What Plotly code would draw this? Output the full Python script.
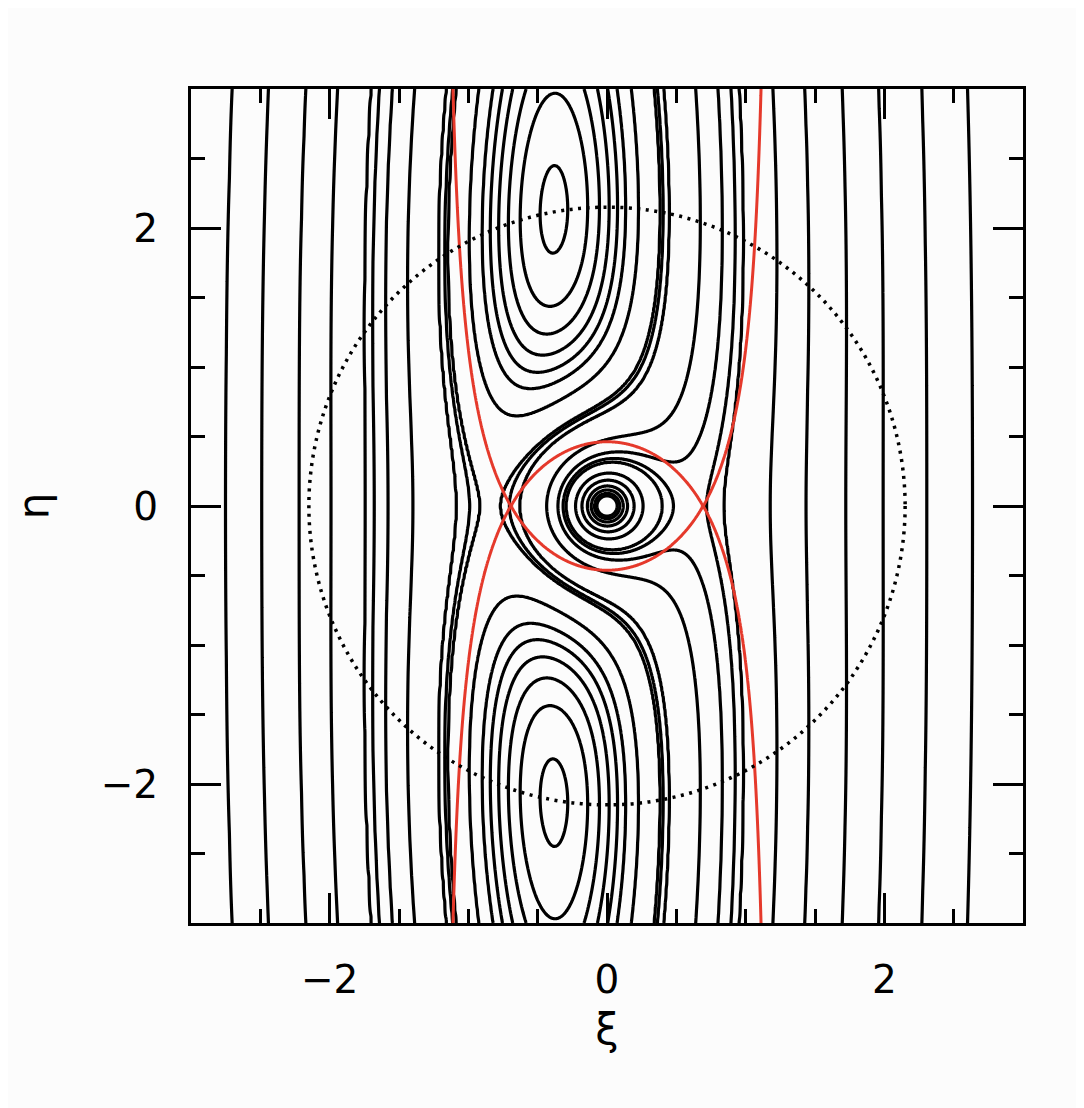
import numpy as np
import plotly.graph_objects as go

# stream function: shear about a shifted corotation line, planet at the origin,
# weak curvature in eta (puts the two vortices on the dotted circle)
SHEAR = 3.0
SHIFT = 0.37
PLANET = 2.0
ETA_CURV = 0.1

# crossings; each one fixes one drawn contour level
ROW0_XI = [-2.75, -2.49, -2.22, -1.99, -1.74, -1.68, -1.58, -1.40,
           -1.085, -0.99, -0.92]                 # on eta = 0, left side
TOP_EDGE_XI = [2.27, 2.60]                        # on eta = 3, right side
VORTEX_XI = -0.383
VORTEX_BOTTOM_ETA = [1.82, 1.44, 1.245, 1.10, 0.986, 0.885, 0.74]

HILL_LEVEL = 4.327   # Jacobi value through L1/L2 (red curves)
CIRCLE_R = 2.15      # dotted circle

AX_RANGE = [-3, 3]
MAJOR_DTICK = 2
MINOR_DTICK = 0.5


def stream(xi, eta):
    r = np.maximum(np.hypot(xi, eta), 1e-3)
    return SHEAR * (xi + SHIFT) ** 2 + PLANET / r + ETA_CURV * eta ** 2


def hill(xi, eta):
    r = np.maximum(np.hypot(xi, eta), 1e-3)
    return SHEAR * xi ** 2 + PLANET / r


# smooth grid, denser round the planet
u = np.linspace(-1, 1, 561)
grid = 3 * np.sinh(2.2 * u) / np.sinh(2.2)
XI, ETA = np.meshgrid(grid, grid)
psi = stream(XI, ETA)

levels = [stream(x, 0.0) for x in ROW0_XI]
levels += [stream(x, 3.0) for x in TOP_EDGE_XI]
levels += [stream(VORTEX_XI, e) for e in VORTEX_BOTTOM_ETA]
levels = np.unique(np.round(levels, 5))

# map the uneven levels onto integers so one contour trace draws them all
pad_lo = levels[1] - levels[0]
pad_hi = levels[-1] - levels[-2]
knots = np.concatenate([[levels[0] - pad_lo], levels, [levels[-1] + pad_hi]])
zmap = np.interp(psi, knots, np.arange(-1, len(levels) + 1))

fig = go.Figure()
fig.add_trace(go.Contour(
    x=np.round(grid, 5), y=np.round(grid, 5), z=np.round(zmap, 5),
    contours=dict(start=0, end=len(levels) - 1, size=1, coloring="lines"),
    colorscale=[[0, "black"], [1, "black"]], showscale=False,
    line=dict(width=3.2), hoverinfo="skip",
))
fig.add_trace(go.Contour(
    x=np.round(grid, 5), y=np.round(grid, 5),
    z=np.round(np.minimum(hill(XI, ETA), 60), 5),
    contours=dict(start=HILL_LEVEL, end=HILL_LEVEL + 0.5, size=1, coloring="lines"),
    colorscale=[[0, "#e5392b"], [1, "#e5392b"]], showscale=False,
    line=dict(width=3), hoverinfo="skip",
))

fig.add_shape(type="circle", xref="x", yref="y",
              x0=-CIRCLE_R, x1=CIRCLE_R, y0=-CIRCLE_R, y1=CIRCLE_R,
              line=dict(color="black", width=3.5, dash="3px,5.5px"))

axis = dict(
    range=AX_RANGE, showgrid=False, zeroline=False,
    showline=True, linecolor="black", linewidth=3, mirror="ticks",
    ticks="inside", ticklen=30, tickwidth=3, tickcolor="black",
    tick0=0, dtick=MAJOR_DTICK,
    minor=dict(dtick=MINOR_DTICK, ticks="inside", ticklen=14,
               tickwidth=3, tickcolor="black"),
    tickfont=dict(family="DejaVu Sans", size=39, color="black"),
)
fig.update_layout(
    width=1076, height=1100,
    margin=dict(l=183, r=61, t=81, b=185),
    paper_bgcolor="#fcfcfc", plot_bgcolor="#fcfcfc",
    showlegend=False,
    xaxis=dict(axis, ticklabelstandoff=20,
               title=dict(text="ξ", font=dict(family="DejaVu Sans", size=42, color="black"), standoff=14)),
    yaxis=dict(axis, ticklabelstandoff=22,
               title=dict(text="η", font=dict(family="DejaVu Sans", size=42, color="black"), standoff=40)),
)

fig.write_html("out.html")
